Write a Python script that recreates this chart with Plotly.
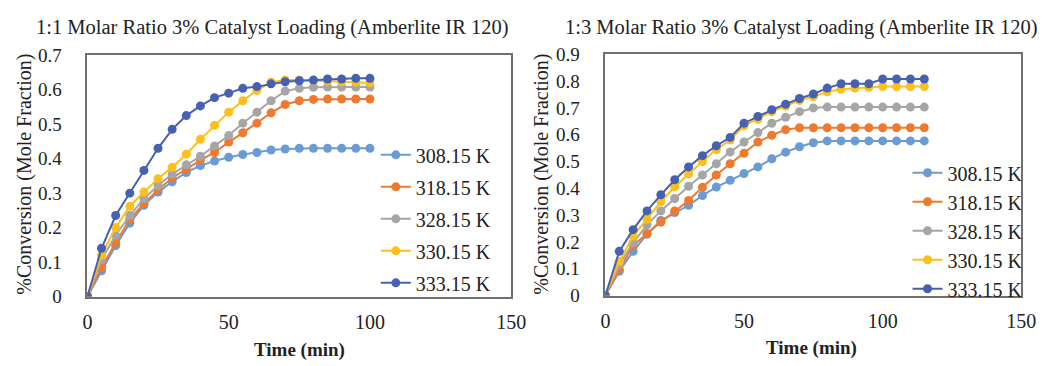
import plotly.graph_objects as go

series_names = ["308.15 K", "318.15 K", "328.15 K", "330.15 K", "333.15 K"]
colors = ["#6A9BD3", "#EC7A31", "#A6A6A6", "#FDBF1E", "#4661B0"]

# Left chart: 1:1 molar ratio, time 0..100 min
time_left = list(range(0, 101, 5))
left_308 = [0, 0.075, 0.148, 0.213, 0.265, 0.303, 0.333, 0.36, 0.38, 0.393, 0.404, 0.412, 0.418,
            0.425, 0.428, 0.43, 0.43, 0.43, 0.43, 0.43, 0.43]
left_318 = [0, 0.085, 0.156, 0.224, 0.27, 0.31, 0.344, 0.37, 0.396, 0.418, 0.448, 0.475, 0.503,
            0.533, 0.557, 0.568, 0.572, 0.573, 0.573, 0.573, 0.573]
left_328 = [0, 0.107, 0.178, 0.235, 0.284, 0.322, 0.355, 0.382, 0.407, 0.437, 0.467, 0.503, 0.535,
            0.568, 0.596, 0.604, 0.607, 0.608, 0.608, 0.608, 0.608]
left_330 = [0, 0.12, 0.2, 0.262, 0.303, 0.342, 0.375, 0.413, 0.456, 0.497, 0.535, 0.568, 0.598,
            0.622, 0.628, 0.628, 0.627, 0.625, 0.623, 0.622, 0.62]
left_333 = [0, 0.14, 0.235, 0.3, 0.366, 0.43, 0.485, 0.525, 0.553, 0.577, 0.59, 0.604, 0.609,
            0.617, 0.623, 0.626, 0.628, 0.631, 0.631, 0.633, 0.633]

# Right chart: 1:3 molar ratio, time 0..115 min
time_right = list(range(0, 116, 5))
right_308 = [0, 0.091, 0.165, 0.229, 0.28, 0.31, 0.337, 0.373, 0.405, 0.43, 0.455, 0.48, 0.51,
             0.535, 0.555, 0.57, 0.577, 0.577, 0.577, 0.577, 0.577, 0.577, 0.577, 0.577]
right_318 = [0, 0.098, 0.186, 0.232, 0.274, 0.316, 0.355, 0.404, 0.45, 0.492, 0.531, 0.573, 0.598,
             0.619, 0.626, 0.626, 0.626, 0.626, 0.626, 0.626, 0.626, 0.626, 0.626, 0.626]
right_328 = [0, 0.116, 0.197, 0.264, 0.316, 0.362, 0.408, 0.45, 0.492, 0.536, 0.573, 0.608, 0.643,
             0.665, 0.686, 0.7, 0.703, 0.703, 0.703, 0.703, 0.703, 0.703, 0.703, 0.703]
right_330 = [0, 0.127, 0.222, 0.285, 0.35, 0.406, 0.454, 0.5, 0.545, 0.58, 0.633, 0.658, 0.686,
             0.707, 0.728, 0.742, 0.76, 0.77, 0.774, 0.777, 0.78, 0.78, 0.78, 0.78]
right_333 = [0, 0.165, 0.246, 0.316, 0.376, 0.432, 0.48, 0.522, 0.559, 0.59, 0.643, 0.668, 0.693,
             0.714, 0.735, 0.752, 0.774, 0.79, 0.79, 0.79, 0.808, 0.808, 0.808, 0.808]

left_data = [left_308, left_318, left_328, left_330, left_333]
right_data = [right_308, right_318, right_328, right_330, right_333]

x_ticks = [0, 50, 100, 150]
left_y_ticks = [0, 0.1, 0.2, 0.3, 0.4, 0.5, 0.6, 0.7]
right_y_ticks = [0, 0.1, 0.2, 0.3, 0.4, 0.5, 0.6, 0.7, 0.8, 0.9]

FONT = "Liberation Serif, Times New Roman, serif"
W, H = 1054, 366

fig = go.Figure()
for name, col, ys in zip(series_names, colors, left_data):
    fig.add_trace(go.Scatter(x=time_left, y=ys, name=name, mode="lines+markers",
                             line=dict(color=col, width=2), marker=dict(color=col, size=9),
                             xaxis="x", yaxis="y", legend="legend", legendgroup="L" + name))
for name, col, ys in zip(series_names, colors, right_data):
    fig.add_trace(go.Scatter(x=time_right, y=ys, name=name, mode="lines+markers",
                             line=dict(color=col, width=2), marker=dict(color=col, size=9),
                             xaxis="x2", yaxis="y2", legend="legend2", legendgroup="R" + name))

axis_common = dict(showgrid=False, zeroline=False, showline=True, mirror=True,
                   linecolor="#707070", linewidth=1.5, ticks="outside",
                   tickcolor="rgba(0,0,0,0)")
xtick_font = dict(family=FONT, size=20, color="#222")
ytick_font = dict(family=FONT, size=19, color="#222")

fig.update_layout(
    width=W, height=H, margin=dict(l=0, r=0, t=0, b=0),
    paper_bgcolor="white", plot_bgcolor="white", showlegend=True,
    font=dict(family=FONT),
    xaxis=dict(domain=[84 / W, 516 / W], range=[0, 150], tickvals=x_ticks, ticklen=7,
               anchor="y", tickfont=xtick_font, **axis_common),
    yaxis=dict(domain=[(H - 304) / H, (H - 48) / H], range=[0, 0.7], tickvals=left_y_ticks,
               ticktext=[str(v) if v else "0" for v in left_y_ticks], ticklen=20,
               anchor="x", tickfont=ytick_font, **axis_common),
    xaxis2=dict(domain=[612 / W, 1036 / W], range=[0, 150], tickvals=x_ticks, ticklen=7,
                anchor="y2", tickfont=xtick_font, **axis_common),
    yaxis2=dict(domain=[(H - 303) / H, (H - 47) / H], range=[0, 0.9], tickvals=right_y_ticks,
                ticktext=[str(v) if v else "0" for v in right_y_ticks], ticklen=20,
                anchor="x2", tickfont=ytick_font, **axis_common),
    legend=dict(x=378 / W, y=1 - 133 / H, xanchor="left", yanchor="top",
                font=dict(family=FONT, size=20, color="#222"), bgcolor="rgba(0,0,0,0)",
                traceorder="grouped", tracegroupgap=3, itemwidth=30),
    legend2=dict(x=920 / W, y=1 - 152 / H, xanchor="left", yanchor="top",
                 font=dict(family=FONT, size=20, color="#222"), bgcolor="rgba(0,0,0,0)",
                 traceorder="grouped", tracegroupgap=0, itemwidth=30),
)

title_font = dict(family=FONT, size=20.5, color="#222")
ytitle_font = dict(family=FONT, size=20, color="#222")
xtitle_font = dict(family=FONT, size=19, color="#222")
annotations = [
    dict(text="1:1 Molar Ratio 3% Catalyst Loading (Amberlite IR 120)", x=273 / W, y=1 - 19 / H, font=title_font),
    dict(text="1:3 Molar Ratio 3% Catalyst Loading (Amberlite IR 120)", x=812 / W, y=1 - 19 / H, font=title_font),
    dict(text="<b>Time (min)</b>", x=300 / W, y=1 - 361 / H, font=xtitle_font),
    dict(text="<b>Time (min)</b>", x=822 / W, y=1 - 359 / H, font=xtitle_font),
    dict(text="%Conversion (Mole Fraction)", x=19 / W, y=1 - 174 / H, textangle=-90, font=ytitle_font),
    dict(text="%Conversion (Mole Fraction)", x=546 / W, y=1 - 174 / H, textangle=-90, font=ytitle_font),
]
for a in annotations:
    fig.add_annotation(xref="paper", yref="paper", showarrow=False, xanchor="center",
                       yanchor="middle", **a)

fig.write_html("out.html")
